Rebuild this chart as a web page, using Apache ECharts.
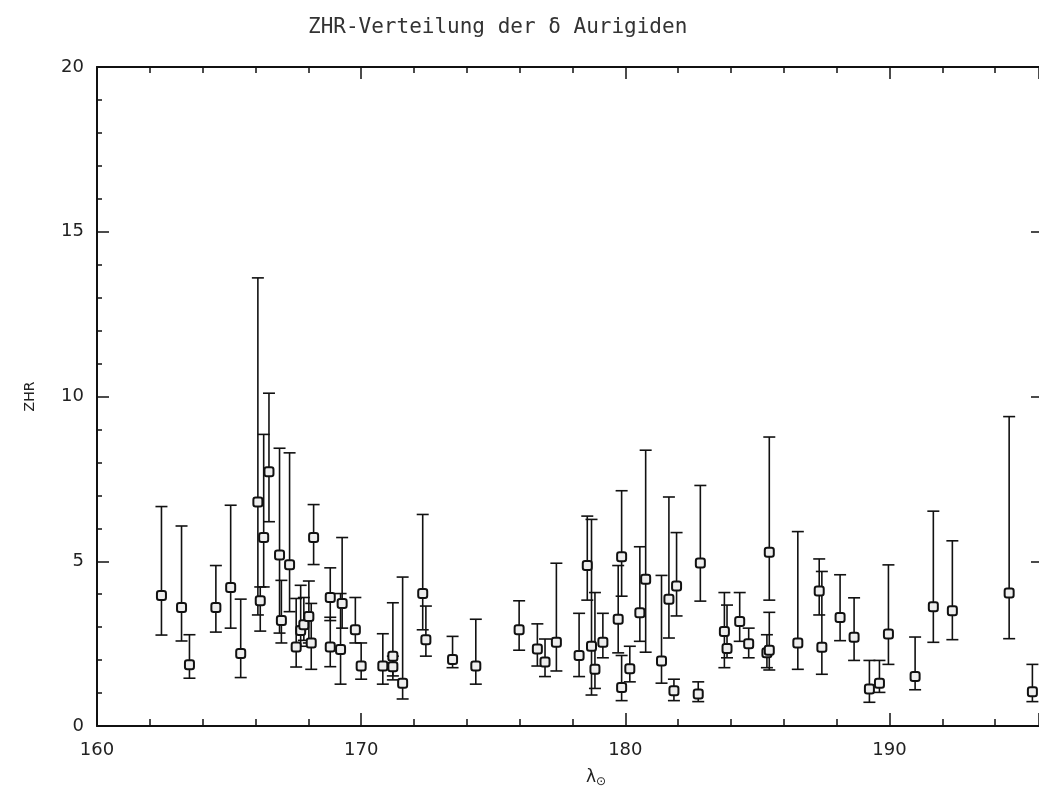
<!DOCTYPE html>
<html>
<head>
<meta charset="utf-8">
<script src="https://cdn.jsdelivr.net/npm/echarts@6/dist/echarts.min.js"></script>
<style>
  html, body { margin: 0; padding: 0; background: #fff; }
  #chartContainer { width: 1039px; height: 793px; }
</style>
</head>
<body>
<div id="chartContainer"></div>
<script>
// Solar longitude of each ZHR estimate
const solarLongitude = [
    162.44, 163.2, 163.5, 164.5, 165.06, 165.44, 166.09, 166.18, 166.31, 166.51,
    166.91, 166.98, 167.29, 167.54, 167.71, 167.83, 168.02, 168.11, 168.2, 168.83,
    168.83, 169.22, 169.28, 169.78, 170.0, 170.82, 171.2, 171.2, 171.57, 172.33,
    172.45, 173.46, 174.34, 175.98, 176.67, 176.96, 177.39, 178.25, 178.56, 178.72,
    178.85, 179.15, 179.73, 179.86, 179.86, 180.17, 180.55, 180.77, 181.37, 181.65,
    181.84, 181.94, 182.76, 182.84, 183.75, 183.85, 184.33, 184.67, 185.36, 185.45,
    185.45, 186.53, 187.34, 187.44, 188.13, 188.66, 189.24, 189.62, 189.96, 190.97,
    191.66, 192.38, 194.53, 195.41
];

// ZHR values
const zhr = [
    3.96, 3.6, 1.86, 3.6, 4.2, 2.2, 6.8, 3.8, 5.72, 7.72,
    5.19, 3.2, 4.89, 2.4, 2.9, 3.07, 3.32, 2.52, 5.72, 3.9,
    2.4, 2.32, 3.72, 2.92, 1.82, 1.82, 2.12, 1.8, 1.3, 4.02,
    2.62, 2.02, 1.82, 2.92, 2.34, 1.94, 2.54, 2.14, 4.87, 2.42,
    1.72, 2.54, 3.24, 5.14, 1.17, 1.74, 3.44, 4.45, 1.97, 3.85,
    1.07, 4.25, 0.97, 4.95, 2.87, 2.35, 3.17, 2.5, 2.22, 5.27,
    2.3, 2.52, 4.1, 2.39, 3.29, 2.69, 1.12, 1.3, 2.79, 1.5,
    3.62, 3.5, 4.04, 1.04
];

// lower end of the error bars
const zhrLow = [
    2.76, 2.58, 1.45, 2.85, 2.97, 1.47, 3.37, 2.88, 4.22, 6.2,
    2.82, 2.52, 3.47, 1.79, 2.42, 2.6, 2.52, 1.72, 4.9, 3.2,
    1.8, 1.27, 2.97, 2.52, 1.42, 1.27, 1.52, 1.4, 0.82, 2.92,
    2.12, 1.77, 1.27, 2.3, 1.82, 1.5, 1.67, 1.5, 3.82, 0.94,
    1.14, 2.07, 2.22, 3.94, 0.77, 1.34, 2.57, 2.24, 1.3, 2.67,
    0.77, 3.34, 0.74, 3.79, 1.77, 2.07, 2.57, 2.07, 1.77, 3.82,
    1.7, 1.72, 3.37, 1.57, 2.59, 1.99, 0.72, 1.02, 1.87, 1.1,
    2.54, 2.62, 2.65, 0.74
];

// upper end of the error bars
const zhrHigh = [
    6.66, 6.07, 2.77, 4.87, 6.7, 3.85, 13.6, 4.22, 8.85, 10.1,
    8.43, 4.42, 8.29, 3.87, 4.27, 3.9, 4.4, 3.72, 6.72, 4.8,
    3.3, 4.02, 5.72, 3.9, 2.52, 2.8, 3.74, 2.12, 4.52, 6.42,
    3.64, 2.72, 3.24, 3.8, 3.1, 2.64, 4.94, 3.42, 6.37, 6.27,
    4.05, 3.42, 4.87, 7.14, 2.14, 2.42, 5.44, 8.37, 4.57, 6.95,
    1.42, 5.87, 1.34, 7.3, 4.05, 3.67, 4.05, 2.97, 2.77, 8.77,
    3.45, 5.9, 5.07, 4.69, 4.59, 3.89, 1.99, 1.99, 4.89, 2.7,
    6.52, 5.62, 9.39, 1.87
];

const xTicks = [160, 170, 180, 190];
const X_MIN = 160;
const X_MAX = 195.66;

const INK = '#111';

function renderErrorBar(params, api) {
    const x = api.value(0);
    const low = api.coord([x, api.value(1)]);
    const high = api.coord([x, api.value(2)]);
    const hw = 6;
    const style = { stroke: INK, lineWidth: 1.6 };
    return {
        type: 'group',
        children: [
            { type: 'line', shape: { x1: high[0], y1: high[1], x2: low[0], y2: low[1] }, style: style },
            { type: 'line', shape: { x1: high[0] - hw, y1: high[1], x2: high[0] + hw, y2: high[1] }, style: style },
            { type: 'line', shape: { x1: low[0] - hw, y1: low[1], x2: low[0] + hw, y2: low[1] }, style: style }
        ]
    };
}

// plain tick-only axis, used to get long and short ticks on the same edge
function tickAxis(kind, position, min, max, interval, tickLen, showLine) {
    return {
        type: 'value',
        position: position,
        min: min,
        max: max,
        interval: interval,
        axisLine: { show: showLine, onZero: false, lineStyle: { color: INK, width: 2 } },
        axisTick: { show: true, inside: true, length: tickLen, lineStyle: { color: INK, width: 1.5 } },
        axisLabel: { show: false },
        splitLine: { show: false }
    };
}

const myChart = echarts.init(document.getElementById('chartContainer'));

const mainX = tickAxis('x', 'bottom', X_MIN, X_MAX, 2, 7, true);
mainX.axisLabel = {
    show: true,
    margin: 15,
    fontSize: 18,
    fontFamily: 'DejaVu Sans',
    color: '#222',
    showMaxLabel: false,
    formatter: v => (xTicks.indexOf(v) >= 0 ? String(v) : '')
};
mainX.name = '{a|λ}{b|⊙}';
mainX.nameLocation = 'middle';
mainX.nameGap = 42;
mainX.nameTextStyle = {
    padding: [0, 0, 0, 56],
    rich: {
        a: { fontSize: 17, fontFamily: 'DejaVu Sans', color: '#222' },
        b: { fontSize: 12, fontFamily: 'DejaVu Sans', color: '#222', padding: [8, 0, 0, 0] }
    }
};

const mainY = tickAxis('y', 'left', 0, 20, 5, 12, true);
mainY.name = 'ZHR';
mainY.nameLocation = 'middle';
mainY.nameGap = 60;
mainY.nameTextStyle = { fontSize: 14, fontFamily: 'DejaVu Sans', color: '#222' };
mainY.axisLabel = { show: true, margin: 13, fontSize: 18, fontFamily: 'DejaVu Sans', color: '#222' };

const option = {
    backgroundColor: '#fff',
    animation: false,
    title: {
        text: 'ZHR-Verteilung der δ Aurigiden',
        left: 303,
        top: 12,
        textStyle: { fontFamily: 'DejaVu Sans Mono', fontSize: 21, fontWeight: 'normal', color: '#333' }
    },
    grid: { left: 97, top: 67, width: 944, height: 667 },
    xAxis: [
        mainX,
        tickAxis('x', 'bottom', X_MIN, X_MAX, 10, 13, false),
        tickAxis('x', 'top', X_MIN, X_MAX, 2, 6, true),
        tickAxis('x', 'top', X_MIN, X_MAX, 10, 12, false)
    ],
    yAxis: [
        mainY,
        tickAxis('y', 'left', 0, 20, 1, 5, false),
        tickAxis('y', 'right', 0, 20, 5, 8, false)
    ],
    series: [
        {
            type: 'custom',
            renderItem: renderErrorBar,
            encode: { x: 0, y: [1, 2] },
            data: solarLongitude.map((x, i) => [x, zhrLow[i], zhrHigh[i]]),
            z: 2
        },
        {
            type: 'scatter',
            symbol: 'roundRect',
            symbolSize: 9,
            itemStyle: { color: '#eee', borderColor: INK, borderWidth: 2, opacity: 1 },
            data: solarLongitude.map((x, i) => [x, zhr[i]]),
            z: 3
        }
    ]
};

myChart.setOption(option);
</script>
</body>
</html>
